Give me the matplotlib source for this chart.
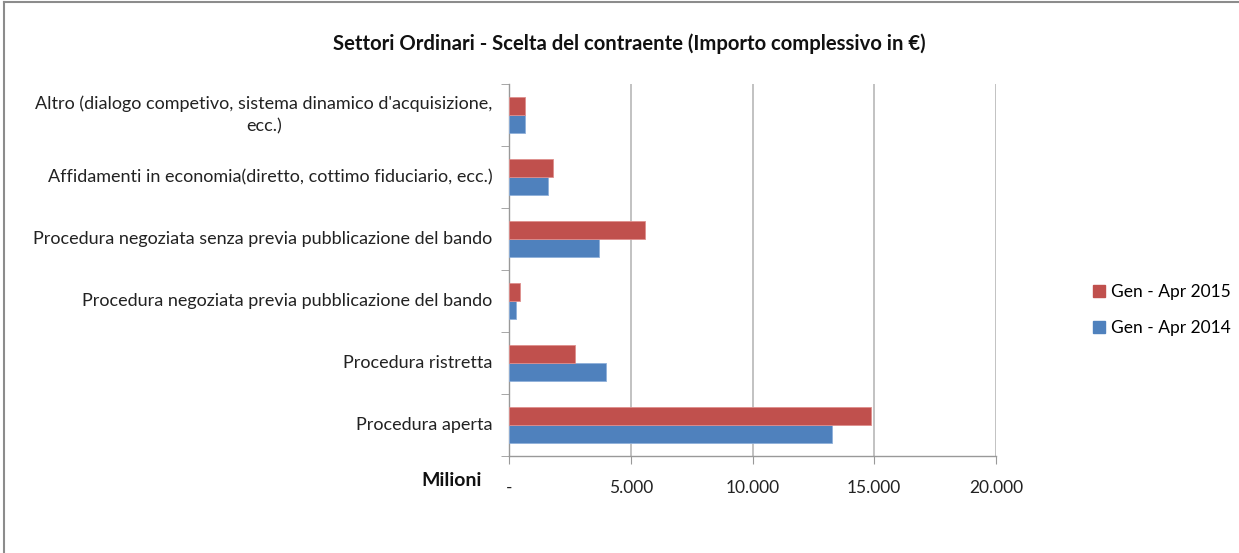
import numpy as np
import matplotlib
matplotlib.use("Agg")
import matplotlib.pyplot as plt
from matplotlib.lines import Line2D

plt.rcParams['font.family'] = ['Lato', 'DejaVu Sans']

# dati (milioni di euro), dal basso verso l'alto
categorie = [
    "Procedura aperta",
    "Procedura ristretta",
    "Procedura negoziata previa pubblicazione del bando",
    "Procedura negoziata senza previa pubblicazione del bando",
    "Affidamenti in economia(diretto, cottimo fiduciario, ecc.)",
    "Altro (dialogo competivo, sistema dinamico d'acquisizione,\necc.)",
]
gen_apr_2014 = [13270, 3990, 270, 3690, 1600, 670]
gen_apr_2015 = [14860, 2720, 440, 5570, 1790, 670]
serie = ["Gen - Apr 2015", "Gen - Apr 2014"]
tick_x = [0, 5000, 10000, 15000, 20000]
tick_lab = ["-", "5.000", "10.000", "15.000", "20.000"]

rosso = "#C0504D"
blu = "#4F81BD"

fig = plt.figure(figsize=(12.39, 5.53), dpi=100)
ax = fig.add_axes([509/1239, 1-456/553, (996-509)/1239, (456-84)/553])

y = np.arange(len(categorie))
h = 0.285
ax.barh(y - h/2, gen_apr_2014, height=h, color=blu, edgecolor="#8FB0DA", linewidth=0.6, zorder=3)
ax.barh(y + h/2, gen_apr_2015, height=h, color=rosso, edgecolor="#DE8E8C", linewidth=0.6, zorder=3)

ax.set_xlim(0, 20000)
ax.set_ylim(-0.5, len(categorie) - 0.5)
ax.set_xticks(tick_x)
ax.set_xticklabels(tick_lab, fontsize=12.5, color="#222222")
ax.xaxis.grid(True, color="#B8B8B8", linewidth=1.2, zorder=0)
ax.tick_params(axis="x", length=6, color="#999999", pad=11)

# etichette categorie
ax.set_yticks(y)
ax.set_yticklabels([])
ax.tick_params(axis="y", which="major", length=0)
ax.set_yticks(np.arange(len(categorie) + 1) - 0.5, minor=True)
ax.tick_params(axis="y", which="minor", length=6, color="#999999")
for yi, lab in zip(y, categorie):
    ax.text(-0.034, yi, lab, transform=ax.get_yaxis_transform(),
            ha="right", va="center", multialignment="center",
            fontsize=13, color="#222222", linespacing=1.45)

for s in ["top", "right"]:
    ax.spines[s].set_visible(False)
for s in ["left", "bottom"]:
    ax.spines[s].set_color("#999999")
    ax.spines[s].set_linewidth(1.0)

fig.text(482/1239, 1-481/553, "Milioni", ha="right", va="center",
         fontsize=14, fontweight="bold", color="#111111")

fig.text(629/1239, 1-44/553, "Settori Ordinari - Scelta del contraente (Importo complessivo in \u20ac)",
         ha="center", va="center", fontsize=14.6, fontweight="bold", color="#111111")

handles = [Line2D([], [], marker="s", linestyle="none", markersize=9, color=rosso),
           Line2D([], [], marker="s", linestyle="none", markersize=9, color=blu)]
fig.legend(handles, serie, loc="center left", bbox_to_anchor=(1075/1239, 1-310/553),
           frameon=False, fontsize=12.5, handletextpad=0.2, labelspacing=1.2,
           handlelength=1.0)

# cornice del grafico
fig.add_artist(Line2D([4/1239, 4/1239], [0, 1-2/553], transform=fig.transFigure,
                      color="#8C8C8C", linewidth=1.5))
fig.add_artist(Line2D([4/1239, 1], [1-2/553, 1-2/553], transform=fig.transFigure,
                      color="#8C8C8C", linewidth=1.5))

fig.savefig("out.png", dpi=100, facecolor="white")
